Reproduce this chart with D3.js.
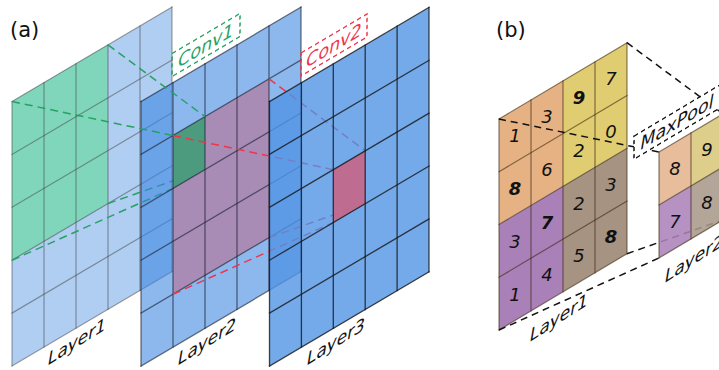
<!DOCTYPE html>
<html><head><meta charset="utf-8">
<script src="https://cdn.jsdelivr.net/npm/d3@7"></script>
<style>body{margin:0;background:#fff}svg{display:block}</style>
</head><body>
<svg id="c" width="719" height="370"></svg>
<script>
// ---------------- data ----------------
const panelLabels = ["(a)", "(b)"];
const convLayerNames = ["Layer1", "Layer2", "Layer3"];
const convGridN = [5, 5, 5];
const convOpNames = ["Conv1", "Conv2"];
// receptive fields: [col0, col1, row0, row1]
const conv1In = [0, 3, 0, 3];
const conv1Out = [1, 2, 1, 2];
const conv2In = [1, 4, 1, 4];
const conv2Out = [2, 3, 2, 3];

const poolLayerNames = ["Layer1", "Layer2"];
const poolOpName = "MaxPool";
const poolInput = [
  [1, 3, 9, 7],
  [8, 6, 2, 0],
  [3, 7, 2, 3],
  [1, 4, 5, 8]
];
const poolSize = 2;

// ---------------- helpers ----------------
const svg = d3.select("#c");
const line = d3.line();
const FONT = "DejaVu Sans, sans-serif";

function makeGrid(x0, y0, n, cw, ch, k) {
  const xs = d3.scaleLinear().domain([0, n]).range([x0, x0 + n * cw]);
  const ys = d3.scaleLinear().domain([0, n]).range([y0, y0 + n * ch]);
  const pt = (c, r) => [xs(c), ys(r) - k * (xs(c) - x0)];
  return { xs, ys, pt, n, k };
}
function quadPath(g, c0, c1, r0, r1) {
  return line([g.pt(c0, r0), g.pt(c1, r0), g.pt(c1, r1), g.pt(c0, r1)]) + "Z";
}
function gridLines(sel, g, stroke, op, w) {
  const segs = [];
  for (let i = 0; i <= g.n; i++) {
    segs.push([g.pt(i, 0), g.pt(i, g.n)]);
    segs.push([g.pt(0, i), g.pt(g.n, i)]);
  }
  sel.selectAll(null).data(segs).enter().append("path")
    .attr("d", d => line(d)).attr("fill", "none")
    .attr("stroke", stroke).attr("stroke-opacity", op).attr("stroke-width", w)
    .attr("stroke-linecap", "square");
}
function dashLines(sel, pairs, color, w, dash, op) {
  sel.selectAll(null).data(pairs).enter().append("path")
    .attr("d", d => line(d)).attr("fill", "none")
    .attr("stroke", color).attr("stroke-width", w)
    .attr("stroke-dasharray", dash).attr("stroke-opacity", op == null ? 1 : op);
}
function planeText(sel, x, y, k, txt, opts) {
  const g = sel.append("g").attr("transform", `translate(${x},${y}) matrix(1,${-k},0,1,0,0)`);
  if (opts.box) {
    g.append("rect").attr("x", -opts.box[0] / 2).attr("y", -opts.box[1] / 2)
      .attr("width", opts.box[0]).attr("height", opts.box[1])
      .attr("fill", opts.boxFill || "none").attr("stroke", opts.color)
      .attr("stroke-width", 1.5).attr("stroke-dasharray", "4,3");
  }
  g.append("text").attr("x", 0).attr("y", 0).attr("dy", "0.36em")
    .attr("text-anchor", "middle").attr("font-family", FONT)
    .attr("font-size", opts.size).attr("font-style", "italic")
    .attr("fill", opts.color).text(txt);
}

// ---------------- panel (a) ----------------
const K = 0.59;
const aLayers = [
  makeGrid(12, 101.5, convGridN[0], 32, 52.9, K),
  makeGrid(141, 101.5, convGridN[1], 32, 52.9, K),
  makeGrid(269.5, 101.5, convGridN[2], 31.9, 52.9, K)
];
const layerBase = ["#3d87e0", "#3a85e1", "#5193e5"];
const layerAlpha = [0.41, 0.58, 0.8];
const lineStyle = [["#444", 0.5, 1.2], ["#1c2230", 0.62, 1.3], ["#151515", 0.8, 1.3]];
const GREEN = "#25a262", RED = "#f0344a";

const gA = svg.append("g");
function layerFill(g, i) {
  const L = aLayers[i];
  g.append("path").attr("d", quadPath(L, 0, L.n, 0, L.n))
    .attr("fill", layerBase[i]).attr("fill-opacity", layerAlpha[i]);
}
// Layer1
layerFill(gA, 0);
gA.append("path").attr("d", quadPath(aLayers[0], ...conv1In)).attr("fill", "#7fd6bb");
gridLines(gA, aLayers[0], ...lineStyle[0]);

const f = (L, c, r) => L.pt(c, r);
const [L1, L2, L3] = aLayers;
// green lines behind layer2 (bottom ones)
dashLines(gA, [
  [f(L1, conv1In[0], conv1In[3]), f(L2, conv1Out[0], conv1Out[3])],
  [f(L1, conv1In[1], conv1In[3]), f(L2, conv1Out[1], conv1Out[3])]
], GREEN, 1.5, "8,5");
// Layer2
layerFill(gA, 1);
gA.append("path").attr("d", quadPath(L2, ...conv2In)).attr("fill", "#a98cb6");
gA.append("path").attr("d", quadPath(L2, ...conv1Out)).attr("fill", "#4c9b7e");
gridLines(gA, L2, ...lineStyle[1]);
// green lines in front (top ones)
dashLines(gA, [
  [f(L1, conv1In[0], conv1In[2]), f(L2, conv1Out[0], conv1Out[2])],
  [f(L1, conv1In[1], conv1In[2]), f(L2, conv1Out[1], conv1Out[2])]
], GREEN, 1.5, "8,5");
// red lines
dashLines(gA, [
  [f(L2, conv2In[0], conv2In[2]), f(L3, conv2Out[0], conv2Out[2])],
  [f(L2, conv2In[1], conv2In[2]), f(L3, conv2Out[1], conv2Out[2])],
  [f(L2, conv2In[0], conv2In[3]), f(L3, conv2Out[0], conv2Out[3])],
  [f(L2, conv2In[1], conv2In[3]), f(L3, conv2Out[1], conv2Out[3])]
], RED, 1.5, "8,5");
// Layer3
layerFill(gA, 2);
gA.append("path").attr("d", quadPath(L3, ...conv2Out)).attr("fill", "#c2688a").attr("fill-opacity", 0.95);
gridLines(gA, L3, ...lineStyle[2]);

// labels
const aLabelPos = [[77, 341], [207, 341], [336, 341]];
convLayerNames.forEach((nm, i) => planeText(gA, aLabelPos[i][0], aLabelPos[i][1], 0.62, nm, { size: 17, color: "#111" }));
planeText(gA, 206, 45, K, convOpNames[0], { size: 17.5, color: GREEN, box: [68, 23] });
planeText(gA, 334, 45, K, convOpNames[1], { size: 17.5, color: RED, box: [66, 23] });

// ---------------- panel (b) ----------------
const KB = 0.596;
const B1 = makeGrid(499, 119, poolInput.length, 32, 52.75, KB);
const poolOut = d3.range(poolInput.length / poolSize).map(br =>
  d3.range(poolInput[0].length / poolSize).map(bc =>
    d3.max(d3.range(poolSize).flatMap(i => d3.range(poolSize).map(j => poolInput[br * poolSize + i][bc * poolSize + j])))));
const B2 = makeGrid(659, 152, poolOut.length, 32, 53, KB);
const blockColors1 = [["#e6b283", "#e0cd72"], ["#aa80b8", "#a69382"]];
const blockColors2 = [["#e4b48d", "#d8c77b"], ["#ab83b9", "#a9988a"]];

const gB = svg.append("g");
// layer1 (b)
for (let br = 0; br < 2; br++) for (let bc = 0; bc < 2; bc++) {
  gB.append("path").attr("d", quadPath(B1, bc * poolSize, (bc + 1) * poolSize, br * poolSize, (br + 1) * poolSize))
    .attr("fill", blockColors1[br][bc]);
}
gridLines(gB, B1, "#3a2810", 0.6, 1.2);
function cellNumbers(g, G, vals, boldFn) {
  const cells = [];
  vals.forEach((row, r) => row.forEach((v, c) => cells.push({ r, c, v })));
  g.selectAll(null).data(cells).enter().append("text")
    .attr("x", d => G.pt(d.c + 0.5, d.r + 0.5)[0])
    .attr("y", d => G.pt(d.c + 0.5, d.r + 0.5)[1])
    .attr("dy", "0.36em").attr("text-anchor", "middle")
    .attr("font-family", FONT).attr("font-size", 18).attr("font-style", "italic")
    .attr("font-weight", d => boldFn(d) ? "bold" : "normal")
    .attr("fill", "#111").text(d => d.v);
}
cellNumbers(gB, B1, poolInput, d => d.v === poolOut[Math.floor(d.r / poolSize)][Math.floor(d.c / poolSize)]);

// dashed pooling lines
dashLines(gB, [
  [B1.pt(0, 0), B2.pt(0, 0)],
  [B1.pt(4, 0), B2.pt(2, 0)],
  [B1.pt(0, 4), B2.pt(0, 2)],
  [B1.pt(4, 4), B2.pt(2, 2)]
], "#111", 1.5, "7,5");

// layer2 (b)
for (let r = 0; r < 2; r++) for (let c = 0; c < 2; c++) {
  gB.append("path").attr("d", quadPath(B2, c, c + 1, r, r + 1))
    .attr("fill", blockColors2[r][c]).attr("fill-opacity", 0.88);
}
gridLines(gB, B2, "#3a2810", 0.6, 1.2);
cellNumbers(gB, B2, poolOut, () => false);

planeText(gB, 559, 317, 0.64, poolLayerNames[0], { size: 17, color: "#111" });
planeText(gB, 694, 258, 0.64, poolLayerNames[1], { size: 17, color: "#111" });
planeText(gB, 677, 122, KB, poolOpName, { size: 17.5, color: "#111", box: [86, 23], boxFill: "#fff" });

// panel labels
svg.selectAll(null).data(panelLabels).enter().append("text")
  .attr("x", (d, i) => [10, 496][i]).attr("y", 37)
  .attr("font-family", FONT).attr("font-size", 21).attr("fill", "#111").text(d => d);
</script>
</body></html>
